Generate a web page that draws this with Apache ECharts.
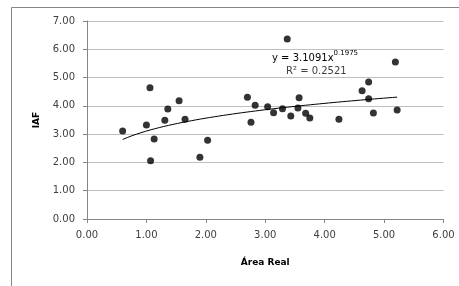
<!DOCTYPE html>
<html>
<head>
<meta charset="utf-8">
<style>
  html, body { margin: 0; padding: 0; background: #fff; }
  #chart { width: 459px; height: 286px; }
</style>
<script src="https://cdn.jsdelivr.net/npm/echarts@6/dist/echarts.min.js"></script>
</head>
<body>
<div id="chart"></div>
<script>
// measured points (Área Real, IAF)
let areaReal = [0.60, 1.00, 1.06, 1.07, 1.13, 1.31, 1.36, 1.55, 1.65, 1.90, 2.03, 2.70, 2.76, 2.83, 3.04,
  3.14, 3.29, 3.37, 3.43, 3.55, 3.57, 3.68, 3.75, 4.24, 4.63, 4.74, 4.74, 4.82, 5.19, 5.22]
let iaf = [3.11, 3.32, 4.64, 2.06, 2.83, 3.49, 3.89, 4.18, 3.53, 2.18, 2.78, 4.30, 3.42, 4.02, 3.97,
  3.76, 3.90, 6.36, 3.64, 3.92, 4.29, 3.74, 3.57, 3.53, 4.53, 4.84, 4.25, 3.75, 5.55, 3.85]

// power trendline as printed on the chart
let trendA = 3.1091
let trendB = 0.1975
let trendR2 = 0.2521

let xTicks = [0, 1, 2, 3, 4, 5, 6]
let yTicks = [0, 1, 2, 3, 4, 5, 6, 7]

let points = areaReal.map((x, i) => [x, iaf[i]])

let xMin = Math.min(...areaReal), xMax = Math.max(...areaReal)
let trend = []
for (let i = 0; i <= 60; i++) {
  let x = xMin + (xMax - xMin) * i / 60
  trend.push([x, trendA * Math.pow(x, trendB)])
}

let chart = echarts.init(document.getElementById('chart'))

let labelFont = { fontFamily: 'DejaVu Sans', fontSize: 10, color: '#404040' }

chart.setOption({
  animation: false,
  backgroundColor: '#fff',
  grid: { left: 87, right: 15.5, top: 21, bottom: 67 },
  xAxis: {
    type: 'value',
    min: xTicks[0],
    max: xTicks[xTicks.length - 1],
    interval: 1,
    name: 'Área Real',
    nameLocation: 'middle',
    nameGap: 39,
    nameTextStyle: { fontFamily: 'DejaVu Sans', fontSize: 9, fontWeight: 'bold', color: '#000' },
    axisLine: { show: true, lineStyle: { color: '#868686', width: 1 } },
    axisTick: { show: true, length: 4, lineStyle: { color: '#868686' } },
    splitLine: { show: false },
    axisLabel: Object.assign({ margin: 11, formatter: v => v.toFixed(2) }, labelFont)
  },
  yAxis: {
    type: 'value',
    min: yTicks[0],
    max: yTicks[yTicks.length - 1],
    interval: 1,
    name: 'IAF',
    nameLocation: 'middle',
    nameRotate: 90,
    nameGap: 46,
    nameTextStyle: { fontFamily: 'DejaVu Sans', fontSize: 9, fontWeight: 'bold', color: '#000' },
    axisLine: { show: true, lineStyle: { color: '#868686', width: 1 } },
    axisTick: { show: true, length: 4, lineStyle: { color: '#868686' } },
    splitLine: { show: true, lineStyle: { color: '#c0c0c0', width: 1 } },
    axisLabel: Object.assign({ margin: 12, formatter: v => v.toFixed(2) }, labelFont)
  },
  series: [
    {
      type: 'line',
      data: trend,
      showSymbol: false,
      smooth: false,
      lineStyle: { color: '#000', width: 1 },
      z: 2
    },
    {
      type: 'scatter',
      data: points,
      symbolSize: 7,
      itemStyle: { color: '#000' },
      z: 3
    }
  ],
  graphic: [
    {
      type: 'rect',
      shape: { x: 11.5, y: 7.5, width: 600, height: 400 },
      style: { fill: 'none', stroke: '#868686', lineWidth: 1 },
      silent: true
    },
    {
      type: 'text',
      left: 272,
      top: 50,
      style: {
        text: '{a|y = ' + trendA + 'x}{s|' + trendB + '}',
        rich: {
          a: { fontFamily: 'DejaVu Sans', fontSize: 10, color: '#404040', verticalAlign: 'bottom' },
          s: { fontFamily: 'DejaVu Sans', fontSize: 7, color: '#404040', verticalAlign: 'top', padding: [0, 0, 6, 0] }
        }
      }
    },
    {
      type: 'text',
      left: 286,
      top: 66,
      style: {
        text: 'R² = ' + trendR2,
        fontFamily: 'DejaVu Sans',
        fontSize: 10,
        fill: '#404040'
      }
    }
  ]
})
</script>
</body>
</html>
